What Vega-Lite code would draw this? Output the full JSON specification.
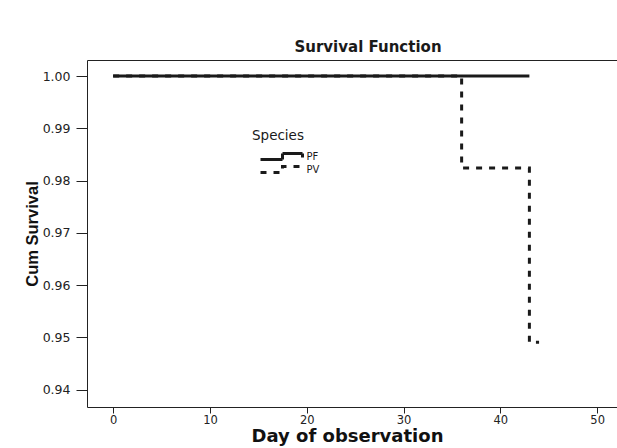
{
  "$schema": "https://vega.github.io/schema/vega-lite/v6.json",
  "width": 530,
  "height": 347,
  "autosize": {"type": "none"},
  "padding": {"left": 87, "top": 60, "right": 0, "bottom": 41},
  "title": {
    "text": "Survival Function",
    "font": "DejaVu Sans",
    "fontSize": 15,
    "fontWeight": "bold",
    "color": "#1a1a1a",
    "dx": 16,
    "offset": 5
  },
  "config": {
    "view": {"stroke": null},
    "axis": {
      "grid": false,
      "domainColor": "#222222",
      "domainWidth": 1,
      "tickColor": "#222222",
      "labelFont": "DejaVu Sans",
      "labelFontSize": 12.5,
      "labelColor": "#222222",
      "titleColor": "#111111"
    }
  },
  "data": {
    "values": [
      {"Species": "PF", "day": 0, "survival": 1.0},
      {"Species": "PF", "day": 43, "survival": 1.0},
      {"Species": "PV", "day": 0, "survival": 1.0},
      {"Species": "PV", "day": 36, "survival": 0.9824},
      {"Species": "PV", "day": 43, "survival": 0.9491},
      {"Species": "PV", "day": 44, "survival": 0.9491}
    ]
  },
  "encoding": {
    "x": {
      "field": "day",
      "type": "quantitative",
      "scale": {"domain": [-2.7, 52.05], "nice": false, "zero": false}
    },
    "y": {
      "field": "survival",
      "type": "quantitative",
      "scale": {"domain": [0.93671, 1.00306], "nice": false, "zero": false},
      "axis": {
        "values": [0.94, 0.95, 0.96, 0.97, 0.98, 0.99, 1.0],
        "format": ".2f",
        "tickSize": 11,
        "labelPadding": 6,
        "title": "Cum Survival",
        "titleFont": "Liberation Sans",
        "titleFontSize": 16.5,
        "titleFontWeight": "bold",
        "titlePadding": 2
      }
    },
    "strokeDash": {
      "field": "Species",
      "type": "nominal",
      "scale": {"domain": ["PF", "PV"], "range": [[1, 0], [6, 7]]},
      "legend": {
        "orient": "none",
        "legendX": 165,
        "legendY": 69,
        "title": "Species",
        "titleFont": "DejaVu Sans",
        "titleFontSize": 13.5,
        "titleFontWeight": "normal",
        "titleColor": "#1a1a1a",
        "titlePadding": 8,
        "labelFont": "DejaVu Sans",
        "labelFontSize": 10,
        "labelColor": "#1a1a1a",
        "labelOffset": 36,
        "symbolType": "M-2,1.2H6.8V-1.2H14.8V0.4",
        "symbolSize": 25,
        "symbolStrokeWidth": 3,
        "symbolStrokeColor": "#1a1a1a",
        "symbolFillColor": "transparent",
        "symbolOffset": 8.5,
        "clipHeight": 12,
        "rowPadding": 1
      }
    }
  },
  "layer": [
    {
      "transform": [{"filter": "datum.Species === 'PF'"}],
      "mark": {"type": "line", "interpolate": "step-after", "strokeWidth": 3, "color": "#1a1a1a", "strokeCap": "butt"},
      "encoding": {
        "x": {
          "field": "day",
          "type": "quantitative",
          "axis": {
            "orient": "bottom",
            "values": [0, 10, 20, 30, 40, 50],
            "tickSize": 6,
            "labelPadding": 1,
            "labelFontSize": 11.5,
            "title": "Day of observation",
            "titleFont": "DejaVu Sans",
            "titleFontSize": 18,
            "titleFontWeight": "bold",
            "titlePadding": 2,
            "titleX": 260
          }
        }
      }
    },
    {
      "transform": [{"filter": "datum.Species === 'PV'"}],
      "mark": {"type": "line", "interpolate": "step-after", "strokeWidth": 3, "color": "#1a1a1a", "strokeCap": "butt"},
      "encoding": {
        "x": {
          "field": "day",
          "type": "quantitative",
          "axis": {"orient": "top", "ticks": false, "labels": false, "title": null}
        }
      }
    }
  ],
  "resolve": {"axis": {"x": "independent"}}
}
